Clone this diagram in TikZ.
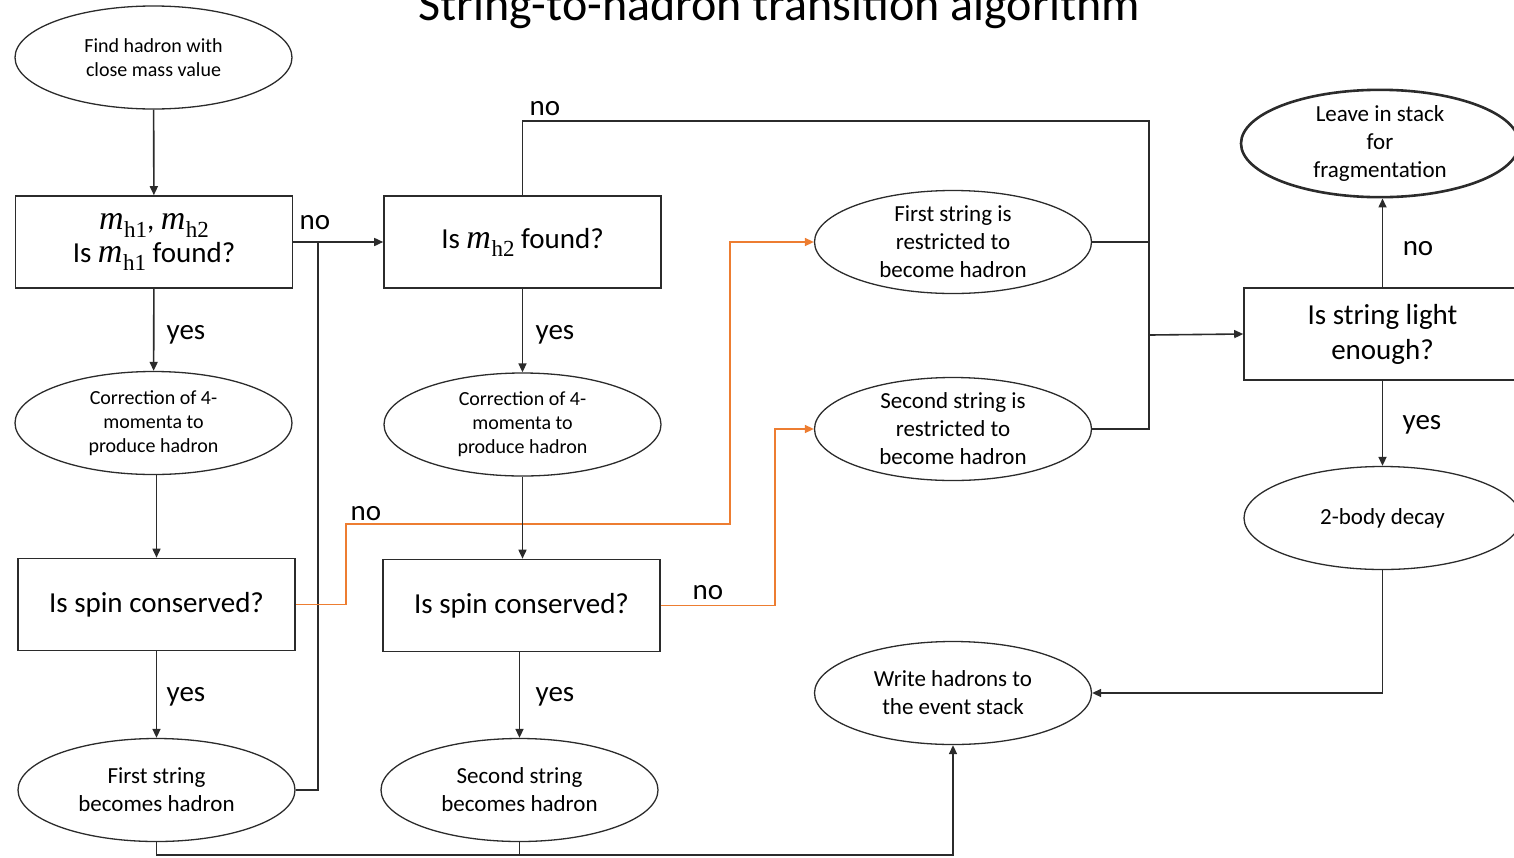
\documentclass[tikz,border=0pt]{standalone}
\usepackage{fontspec}
\setmainfont{Carlito}
\newfontfamily\mathserif{Liberation Serif}
\usetikzlibrary{shapes.geometric,arrows.meta}
\definecolor{orangeC}{HTML}{ED7D31}
\definecolor{lineC}{HTML}{2B2B2B}
\newcommand\mhsub[1]{{\mathserif\fontsize{34}{35}\selectfont\itshape m}\kern0.5pt\raisebox{-0.28em}{\mathserif\fontsize{23}{24}\selectfont h#1}}
\begin{document}
\begin{tikzpicture}[x=1pt,y=-1pt,
  ln/.style={draw=lineC, line width=1.6pt},
  arr/.style={ln, -{Triangle[length=9pt,width=8pt]}},
  oarr/.style={draw=orangeC, line width=1.6pt, -{Triangle[length=9pt,width=8pt]}},
  ell/.style={ellipse, draw=lineC, line width=1.3pt, minimum width=277pt, minimum height=103pt, inner sep=0pt, align=center},
  boxx/.style={rectangle, draw=lineC, line width=1.6pt, minimum width=277pt, minimum height=92pt, inner sep=0pt, align=center},
  smalltxt/.style={font=\fontsize{20}{24}\selectfont},
  medtxt/.style={font=\fontsize{23}{28}\selectfont},
  bigtxt/.style={font=\fontsize{29}{35}\selectfont},
  lab/.style={font=\fontsize{29}{35}\selectfont, inner sep=0pt},
]
\useasboundingbox (0,0) rectangle (1514,857);
\clip (0,0) rectangle (1514,857);

\node[font=\fontsize{48}{58}\selectfont, anchor=base] (title) at (779,20) {String-to-hadron transition algorithm};

% nodes
\node[ell, smalltxt] (find) at (153.5,57.5) {Find hadron with\\close mass value};
\node[boxx, bigtxt] (b1) at (154,242) {\mhsub{1}, \mhsub{2}\\[-2pt]Is \mhsub{1} found?};
\node[boxx, bigtxt] (b2) at (522.5,242) {Is \mhsub{2} found?};
\node[ell, smalltxt] (c1) at (153.5,423) {Correction of 4-\\momenta to\\produce hadron};
\node[ell, smalltxt] (c2) at (522.5,424.5) {Correction of 4-\\momenta to\\produce hadron};
\node[boxx, bigtxt] (s1) at (156.5,604.5) {Is spin conserved?};
\node[boxx, bigtxt] (s2) at (521.5,605.5) {Is spin conserved?};
\node[ell, medtxt] (fsb) at (156.5,790) {First string\\becomes hadron};
\node[ell, medtxt] (ssb) at (519.5,790) {Second string\\becomes hadron};
\node[ell, medtxt] (fr) at (953,242) {First string is\\restricted to\\become hadron};
\node[ell, medtxt] (sr) at (953,429) {Second string is\\restricted to\\become hadron};
\node[ell, medtxt] (wr) at (953,693) {Write hadrons to\\the event stack};
\node[ell, medtxt, line width=2.6pt, minimum width=278pt] (leave) at (1380,143.5) {Leave in stack\\for\\fragmentation};
\node[boxx, bigtxt] (light) at (1382.5,334) {Is string light\\enough?};
\node[ell, medtxt] (tb) at (1382.5,518) {2-body decay};

% coordinates
\coordinate (j1) at (318,242);
\coordinate (jt) at (1149,121);
\coordinate (jm) at (1150,335);
\coordinate (o1) at (346,524);
\coordinate (o2) at (730,524);
\coordinate (o3) at (775,429);
\coordinate (bl) at (156.5,855);

% connectors
\draw[arr] (find) -- (b1);
\draw[arr] (b1.east) -- (b2.west);
\draw[ln] (fsb.east) -| (j1);
\draw[arr] (b1) -- (c1);
\draw[arr] (s1.north |- c1.south) -- (s1.north);
\draw[arr] (s1) -- (fsb);
\draw[oarr] (s1.east) -| (o1) -- (o2) |- (fr.west);
\draw[arr] (b2) -- (c2);
\draw[arr] (c2) -- (c2 |- s2.north);
\draw[arr] (s2.south -| ssb) -- (ssb.north);
\draw[oarr] (s2.east) -| (o3) -- (sr.west);
\draw[ln] (b2.north) |- (jt) |- (sr.east);
\draw[ln] (fr.east) -- (fr.east -| jt);
\draw[arr] (jm) -- (light.west);
\draw[arr] (light.north) -- (light.north |- leave.south);
\draw[arr] (light) -- (tb);
\draw[arr] (tb.south) |- (wr.east);
\draw[arr] (fsb.south) -- (bl) -| (wr.south);
\draw[ln] (ssb.south) -- (ssb.south |- bl);

% labels
\node[lab] (l1) at (315,223) {no};
\node[lab] (l2) at (186,335) {yes};
\node[lab] (l3) at (186,697) {yes};
\node[lab] (l4) at (366,514) {no};
\node[lab] (l5) at (555,335) {yes};
\node[lab] (l6) at (555,697) {yes};
\node[lab] (l7) at (708,593) {no};
\node[lab] (l8) at (545,109) {no};
\node[lab] (l9) at (1418,249) {no};
\node[lab] (l10) at (1422,425) {yes};
\end{tikzpicture}
\end{document}
